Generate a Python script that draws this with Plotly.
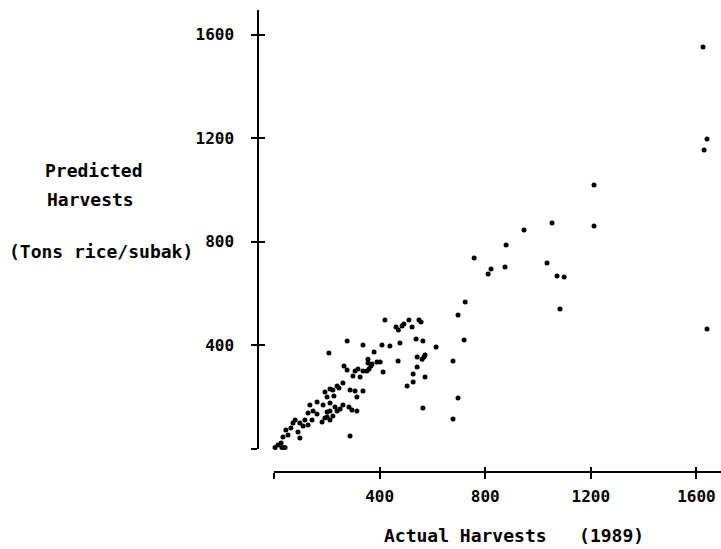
import plotly.graph_objects as go

# Actual harvests (1989) vs predicted harvests, tons rice / subak
actual = [
    1625, 1640, 1629, 1640, 1212, 1212, 1053, 1034, 1072, 1099, 1083, 947, 879, 875,
    822, 811, 758, 724, 697, 720, 697, 678, 678, 614, 564, 572, 527, 527, 504, 542,
    561, 568, 572, 542, 538, 564, 477, 439, 409, 470, 402, 413, 420, 462, 471, 485,
    492, 511, 523, 549, 557,
    337, 277, 379, 356, 356, 367, 360, 352, 390, 371, 265, 277, 307, 318, 337, 208,
    299, 326, 261, 239, 246, 223, 212, 288, 307, 337, 193, 201, 227, 314, 163, 136,
    186, 212, 231, 239, 212, 261, 284, 295, 314, 148, 163,
    129, 117, 98, 110, 129, 80, 72, 64, 91, 45, 53, 34, 98, 27, 15, 4, 30, 42, 288,
    193, 223, 182, 201, 212, 144, 250, 201,
]
predicted = [
    1552, 1197, 1154, 463, 1019, 861, 873, 718, 668, 664, 541, 846, 788, 703,
    695, 676, 737, 568, 517, 421, 197, 116, 340, 394, 158, 278, 290, 259, 243, 317,
    347, 355, 363, 355, 425, 417, 409, 398, 402, 340, 336, 297, 498, 471, 459, 475,
    483, 498, 471, 498, 490,
    402, 417, 375, 347, 332, 320, 309, 301, 336, 328, 320, 305, 301, 309, 301, 371,
    282, 278, 255, 243, 236, 228, 232, 228, 224, 224, 220, 201, 205, 201, 181, 170,
    170, 178, 162, 147, 147, 170, 162, 151, 147, 147, 135,
    139, 112, 100, 89, 93, 112, 100, 81, 66, 73, 54, 46, 42, 23, 15, 6, 6, 6, 50,
    120, 127, 104, 124, 112, 112, 154, 143,
]

tick_vals = [0, 400, 800, 1200, 1600]
tick_text = ["", "400", "800", "1200", "1600"]
x_range = [0, 1693]
y_range = [0, 1695]

FONT = "DejaVu Sans Mono"
W, H = 721, 549
L, R, T, B = 258, 0, 10, 77
pw, ph = W - L - R, H - T - B


def fx(p):
    return (p - L) / pw


def fy(p):
    return (H - B - p) / ph


fig = go.Figure()
fig.add_trace(go.Scatter(
    x=actual, y=predicted, mode="markers",
    marker=dict(color="black", size=5, line=dict(width=0)),
    showlegend=False, hoverinfo="skip", cliponaxis=False,
))
fig.add_trace(go.Scatter(x=[None], y=[None], xaxis="x2", yaxis="y2",
                         mode="markers", showlegend=False, hoverinfo="skip"))

common = dict(showgrid=False, zeroline=False, tickvals=tick_vals,
              linecolor="black", tickcolor="black", tickwidth=1.5)
tfont = dict(family=FONT, size=16, color="black", weight="bold")
afont = dict(family=FONT, size=18, color="black", weight="bold")

fig.update_layout(
    width=W, height=H,
    margin=dict(l=L, r=R, t=T, b=B, autoexpand=False),
    paper_bgcolor="white", plot_bgcolor="white",
    xaxis=dict(domain=[fx(274), 1], range=x_range, anchor="free", position=0,
               showline=True, linewidth=1.5, ticks="outside", ticklen=6,
               ticktext=tick_text, ticklabelstandoff=4, tickfont=tfont, **common),
    yaxis=dict(domain=[fy(449), 1], range=y_range, anchor="free", position=0,
               showline=True, linewidth=1.5, ticks="outside", ticklen=6,
               ticktext=tick_text, ticklabelstandoff=14, tickfont=tfont, **common),
    xaxis2=dict(domain=[fx(274), 1], range=x_range, overlaying="x", anchor="free",
                position=0, showline=False, ticks="inside", ticklen=5,
                showticklabels=False, **common),
    yaxis2=dict(domain=[fy(449), 1], range=y_range, overlaying="y", anchor="free",
                position=0, showline=False, ticks="inside", ticklen=6,
                showticklabels=False, **common),
    annotations=[
        dict(text="Predicted", xref="paper", yref="paper", x=fx(43), y=fy(170),
             xanchor="left", yanchor="middle", showarrow=False, font=afont),
        dict(text="Harvests", xref="paper", yref="paper", x=fx(45), y=fy(200),
             xanchor="left", yanchor="middle", showarrow=False, font=afont),
        dict(text="(Tons rice/subak)", xref="paper", yref="paper", x=fx(7), y=fy(251),
             xanchor="left", yanchor="middle", showarrow=False, font=afont),
        dict(text="Actual Harvests\u00a0\u00a0\u00a0(1989)", xref="paper", yref="paper",
             x=fx(382), y=fy(535), xanchor="left", yanchor="middle", showarrow=False,
             font=afont),
    ],
)

fig.write_html("out.html", config={"displayModeBar": False},
               post_script="document.body.style.margin='0';")
